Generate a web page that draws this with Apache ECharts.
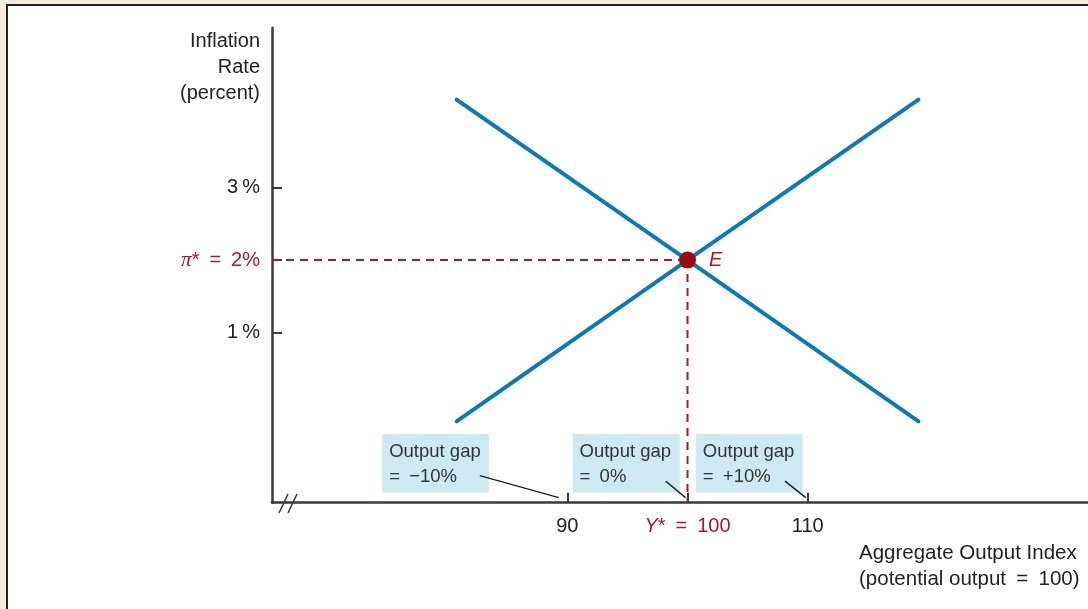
<!DOCTYPE html>
<html>
<head>
<meta charset="utf-8">
<script src="https://cdn.jsdelivr.net/npm/echarts@6/dist/echarts.min.js"></script>
<style>html,body{margin:0;padding:0;background:#f3ecdc;}#c{width:1088px;height:609px;}</style>
</head>
<body>
<div id="c"></div>
<script>
// ---- data ----
const xRange = [65.45, 133.3];
const yRange = [-1.34, 5.2];
const xTicks = [90, 100, 110];
const yTicks = [1, 2, 3];
const potentialOutput = 100;
const targetInflation = 2;
const asCurve = [[80.8, -0.22], [100, 2], [119.2, 4.21]];
const adCurve = [[80.8, 4.21], [100, 2], [119.2, -0.22]];
const gapBoxes = [
  {name: 'Output gap\n=\u2002\u221210%', from: [74.61, -0.393], to: [83.48, -1.2]},
  {name: 'Output gap\n=\u20020%', from: [90.44, -0.393], to: [99.36, -1.2]},
  {name: 'Output gap\n=\u2002+10%', from: [100.69, -0.393], to: [109.56, -1.2]}
];
const leaders = [
  [[82.73, -0.967], [89.3, -1.27]],
  [[98.2, -1.044], [99.83, -1.27]],
  [[108.11, -1.044], [109.83, -1.27]]
];

const FONT = '"Liberation Sans", Arial, Helvetica, sans-serif';
const BLUE = '#0a79bf', RED = '#ab1a20', AX = '#3a3a3a';
const SP = '\u2002';

const chart = echarts.init(document.getElementById('c'));

function endLabel(pt, txt, offY) {
  return {value: pt, label: {show: true, position: 'right', distance: 12, offset: [0, offY],
    formatter: txt, color: BLUE, fontSize: 20, fontStyle: 'italic', fontFamily: FONT}};
}

const option = {
  backgroundColor: '#f3ecdc',
  animation: false,
  grid: {left: 272, right: 0, top: 27.7, bottom: 106.3, containLabel: false},
  xAxis: {
    type: 'value', min: xRange[0], max: xRange[1],
    splitLine: {show: false},
    axisLine: {onZero: false, lineStyle: {color: AX, width: 2.5}},
    axisTick: {show: true, inside: true, length: 10, customValues: xTicks, lineStyle: {color: AX, width: 2}},
    axisLabel: {
      customValues: xTicks, margin: 14, fontSize: 20, color: '#222', fontFamily: FONT,
      formatter: v => v === potentialOutput ? '{i|Y}{r|*' + SP + '=' + SP + v + '}' : String(v),
      rich: {
        i: {color: RED, fontStyle: 'italic', fontSize: 20, fontFamily: FONT},
        r: {color: RED, fontSize: 20, fontFamily: FONT}
      }
    }
  },
  yAxis: {
    type: 'value', min: yRange[0], max: yRange[1],
    splitLine: {show: false},
    axisLine: {onZero: false, lineStyle: {color: AX, width: 2.5}},
    axisTick: {show: true, inside: true, length: 10, customValues: yTicks, lineStyle: {color: AX, width: 2}},
    axisLabel: {
      customValues: yTicks, margin: 12, fontSize: 20, color: '#222', fontFamily: FONT,
      formatter: v => v === targetInflation ? '{p|\u03c0}{r|*' + SP + '=' + SP + v + '%}' : v + '\u2009%',
      rich: {
        p: {color: RED, fontStyle: 'italic', fontSize: 21, fontFamily: '"Liberation Serif", "DejaVu Serif", serif'},
        r: {color: RED, fontSize: 20, fontFamily: FONT}
      }
    }
  },
  graphic: [
    {type: 'rect', z: -10, silent: true, shape: {x: 7, y: 5, width: 1200, height: 700},
      style: {fill: '#fff', stroke: '#222', lineWidth: 2}},
    {type: 'text', x: 260, y: 28, silent: true,
      style: {text: 'Inflation\nRate\n(percent)', font: '20px ' + FONT, fill: '#222', align: 'right', lineHeight: 26}},
    {type: 'text', x: 859, y: 540, silent: true,
      style: {text: 'Aggregate Output Index\n(potential output' + SP + '=' + SP + '100)', font: '20.5px ' + FONT, fill: '#222', lineHeight: 26}},
    {type: 'line', shape: {x1: 279, y1: 513, x2: 288, y2: 494}, style: {stroke: '#333', lineWidth: 1.5}},
    {type: 'line', shape: {x1: 288, y1: 513, x2: 297, y2: 494}, style: {stroke: '#333', lineWidth: 1.5}}
  ],
  series: [
    {
      type: 'line', data: [], silent: true,
      markArea: {
        silent: true,
        itemStyle: {color: '#cde9f2'},
        label: {show: true, position: 'insideTopLeft', distance: 0, padding: [5, 0, 0, 7],
          color: '#333', fontSize: 18.5, lineHeight: 25, fontFamily: FONT, formatter: p => p.name},
        data: gapBoxes.map(b => [{name: b.name, coord: b.from}, {coord: b.to}])
      }
    },
    ...leaders.map(seg => ({
      type: 'line', data: seg, symbol: 'none', silent: true,
      lineStyle: {color: '#222', width: 1.5}
    })),
    {
      type: 'line', symbol: 'none', silent: true,
      data: [[xRange[0], targetInflation], [potentialOutput, targetInflation]],
      lineStyle: {color: RED, width: 2, type: [8, 6]}
    },
    {
      type: 'line', symbol: 'none', silent: true,
      data: [[potentialOutput, targetInflation], [potentialOutput, yRange[0]]],
      lineStyle: {color: RED, width: 2, type: [8, 6]}
    },
    {
      name: 'AS', type: 'line', symbol: 'none', showSymbol: false, silent: true,
      lineStyle: {color: BLUE, width: 4, cap: 'round'},
      data: asCurve.map((p, i) => i === asCurve.length - 1 ? endLabel(p, 'AS', -2) : p)
    },
    {
      name: 'AD', type: 'line', symbol: 'none', showSymbol: false, silent: true,
      lineStyle: {color: BLUE, width: 4, cap: 'round'},
      data: adCurve.map((p, i) => i === adCurve.length - 1 ? endLabel(p, 'AD', 11) : p)
    },
    {
      type: 'scatter', symbolSize: 17, silent: true, z: 10,
      itemStyle: {color: '#9c0b10', opacity: 1},
      data: [[potentialOutput, targetInflation]],
      label: {show: true, position: 'right', distance: 13, formatter: 'E', color: RED,
        fontSize: 20, fontStyle: 'italic', fontFamily: FONT}
    }
  ]
};
chart.setOption(option);
</script>
</body>
</html>
